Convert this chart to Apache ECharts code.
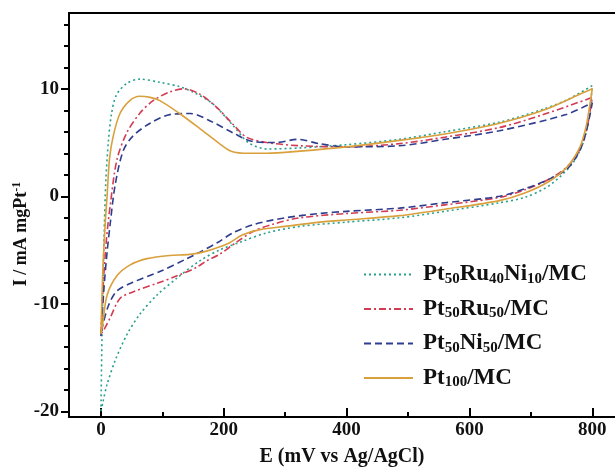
<!DOCTYPE html>
<html>
<head>
<meta charset="utf-8">
<script src="https://cdn.jsdelivr.net/npm/echarts@6/dist/echarts.min.js"></script>
<style>
html, body { margin: 0; padding: 0; background: #fff; }
#main { width: 615px; height: 472px; }
</style>
</head>
<body>
<div id="main"></div>
<script>
// legend names, in legend order
var names = ['Pt50Ru40Ni10/MC', 'Pt50Ru50/MC', 'Pt50Ni50/MC', 'Pt100/MC'];

// tick labels
var xMajor = [0, 200, 400, 600, 800];
var xMinor = [100, 300, 500, 700];
var yMajor = [-20, -10, 0, 10];
var yMinor = [-18, -16, -14, -12, -8, -6, -4, -2, 2, 4, 6, 8, 12, 14, 16];

// [E mV, I] : forward scan 0 -> 800 then back to 0
var ruNiData = [
	[0, -20], [2, -12], [5, -4], [8, 1.5], [12, 5], [17, 7.6], [25, 9.4], [42, 10.5], [63, 10.9],
	[96, 10.6], [128, 10.2], [150, 9.7], [182, 8.6], [215, 6.6], [240, 5.0], [270, 4.4],
	[324, 4.5], [400, 4.8], [486, 5.3], [560, 6.0], [649, 6.9], [720, 8.1], [760, 9.0], [800, 10.3],
	[797, 8.5], [792, 6.5], [784, 4.8], [767, 3.0], [730, 1.0], [690, -0.1], [649, -0.6],
	[560, -1.4], [486, -2.0], [400, -2.4], [324, -2.8], [270, -3.4], [230, -4.2], [193, -5.0],
	[161, -6.0], [124, -7.6], [91, -9.2], [63, -11.0], [42, -12.9], [23, -15.3], [10, -17.5], [3, -19.2], [0, -20]
];
var ruData = [
	[0, -12.8], [4, -8], [9, -4], [15, -0.9], [26, 3.4], [42, 5.9], [63, 7.7], [85, 8.9],
	[112, 9.7], [135, 10.0], [161, 9.5], [188, 8.3], [215, 6.7], [237, 5.5], [270, 5.0],
	[324, 4.7], [400, 4.6], [486, 4.9], [560, 5.5], [649, 6.4], [720, 7.6], [800, 9.2],
	[796, 7.8], [790, 6.0], [780, 4.4], [760, 2.8], [730, 1.6], [690, 0.6], [649, -0.1],
	[560, -0.8], [486, -1.3], [400, -1.6], [324, -2.0], [280, -2.6], [250, -3.2], [220, -4.3],
	[193, -5.4], [172, -6.0], [156, -6.6], [124, -7.4], [91, -8.1], [52, -8.9], [31, -9.5],
	[15, -11.3], [5, -12.4], [0, -12.8]
];
var niData = [
	[0, -13], [5, -8.5], [10, -5.2], [15, -2.6], [23, 1.0], [36, 4.2], [52, 5.6], [80, 6.8],
	[112, 7.6], [145, 7.7], [182, 6.9], [215, 5.9], [247, 5.1], [285, 5.0], [320, 5.3],
	[355, 4.9], [400, 4.6], [486, 4.7], [560, 5.3], [649, 6.1], [757, 7.6], [800, 8.7],
	[796, 7.5], [790, 6.0], [780, 4.3], [760, 2.6], [730, 1.6], [690, 0.7], [649, 0.0],
	[560, -0.6], [486, -1.1], [400, -1.4], [356, -1.6], [300, -2.0], [250, -2.6], [215, -3.4],
	[190, -4.3], [161, -5.2], [140, -5.8], [96, -7.0], [52, -8.0], [26, -8.8], [12, -10.2],
	[3, -12.0], [0, -13]
];
var ptData = [
	[0, -12.8], [3, -7], [7, -2.5], [10, 0], [14, 3.5], [20, 5.6], [31, 7.7], [47, 8.9],
	[63, 9.3], [80, 9.2], [96, 8.9], [128, 7.7], [161, 6.3], [193, 4.9], [212, 4.2], [240, 4.0],
	[270, 4.0], [324, 4.2], [400, 4.6], [486, 5.2], [560, 5.8], [649, 6.8], [720, 8.0], [784, 9.6], [800, 10.0],
	[796, 8.5], [790, 6.5], [780, 4.6], [760, 2.8], [730, 1.4], [690, 0.3], [649, -0.4],
	[560, -1.2], [486, -1.8], [400, -2.2], [356, -2.4], [300, -2.8], [259, -3.1], [230, -3.6],
	[207, -4.4], [172, -5.1], [145, -5.4], [112, -5.5], [75, -5.8], [47, -6.4], [26, -7.4],
	[10, -9.2], [3, -11.8], [0, -12.8]
];

var colors = ['#27a08c', '#d23b52', '#2e3d8f', '#d9a03c'];
var dashes = [[2, 3], [7, 3, 2, 3], [7, 4], 'solid'];
var seriesData = [ruNiData, ruData, niData, ptData];

var serif = '"Liberation Serif", "Times New Roman", serif';

var series = [];
for (var i = 0; i < names.length; i++) {
	series.push({
		name: names[i],
		type: 'line',
		data: seriesData[i],
		smooth: 0.3,
		symbol: 'none',
		xAxisIndex: 0,
		yAxisIndex: 0,
		itemStyle: { color: colors[i] },
		lineStyle: { color: colors[i], width: 1.6, type: dashes[i] }
	});
}

function subName(name) {
	return '{n|' + name.replace(/(\d+)/g, '}{s|$1}{n|') + '}';
}

var xMin = -52, xMax = 837;
var yMin = -20.53, yMax = 17.05;
var labelFont = { fontFamily: serif, fontWeight: 'bold', fontSize: 19, color: '#111' };

var option = {
	animation: false,
	backgroundColor: '#fff',
	grid: { left: 69, top: 13, right: 0, bottom: 52 },
	legend: {
		data: names,
		orient: 'vertical',
		left: 358,
		top: 258,
		itemWidth: 49,
		itemHeight: 12,
		itemGap: 11,
		formatter: subName,
		itemStyle: { opacity: 0 },
		textStyle: {
			padding: [0, 0, 0, 5],
			rich: {
				n: { fontFamily: serif, fontWeight: 'bold', fontSize: 23, color: '#111', lineHeight: 24 },
				s: { fontFamily: serif, fontWeight: 'bold', fontSize: 15, color: '#111', lineHeight: 15, verticalAlign: 'bottom' }
			}
		}
	},
	xAxis: [
		{
			type: 'value', min: xMin, max: xMax, position: 'bottom',
			axisLine: { onZero: false, lineStyle: { color: '#000', width: 2 } },
			axisTick: { customValues: xMajor, inside: true, length: 9, lineStyle: { color: '#000', width: 2 } },
			axisLabel: Object.assign({ customValues: xMajor, margin: 4 }, labelFont),
			splitLine: { show: false },
			name: 'E (mV vs Ag/AgCl)',
			nameLocation: 'middle',
			nameGap: 30,
			nameTextStyle: { fontFamily: serif, fontWeight: 'bold', fontSize: 20, color: '#111' }
		},
		{
			type: 'value', min: xMin, max: xMax, position: 'bottom',
			axisLine: { show: false, onZero: false },
			axisTick: { customValues: xMinor, inside: true, length: 5, lineStyle: { color: '#000', width: 2 } },
			axisLabel: { show: false },
			splitLine: { show: false }
		},
		{
			type: 'value', min: xMin, max: xMax, position: 'top',
			axisLine: { onZero: false, lineStyle: { color: '#000', width: 2 } },
			axisTick: { show: false },
			axisLabel: { show: false },
			splitLine: { show: false }
		}
	],
	yAxis: [
		{
			type: 'value', min: yMin, max: yMax, position: 'left',
			axisLine: { onZero: false, lineStyle: { color: '#000', width: 2 } },
			axisTick: { customValues: yMajor, length: 8, lineStyle: { color: '#000', width: 2 } },
			axisLabel: Object.assign({ customValues: yMajor, margin: 10 }, labelFont),
			splitLine: { show: false }
		},
		{
			type: 'value', min: yMin, max: yMax, position: 'left',
			axisLine: { show: false, onZero: false },
			axisTick: { customValues: yMinor, length: 5, lineStyle: { color: '#000', width: 2 } },
			axisLabel: { show: false },
			splitLine: { show: false }
		}
	],
	graphic: [{
		type: 'text',
		x: 21,
		y: 234,
		rotation: Math.PI / 2,
		style: {
			text: '{a|I / mA mgPt}{b|-1}',
			align: 'center',
			verticalAlign: 'middle',
			rich: {
				a: { fontFamily: serif, fontWeight: 'bold', fontSize: 18, fill: '#111', lineHeight: 20 },
				b: { fontFamily: serif, fontWeight: 'bold', fontSize: 12, fill: '#111', lineHeight: 12, verticalAlign: 'top' }
			}
		}
	}],
	series: series
};

var myChart = echarts.init(document.getElementById('main'));
myChart.setOption(option);
</script>
</body>
</html>
